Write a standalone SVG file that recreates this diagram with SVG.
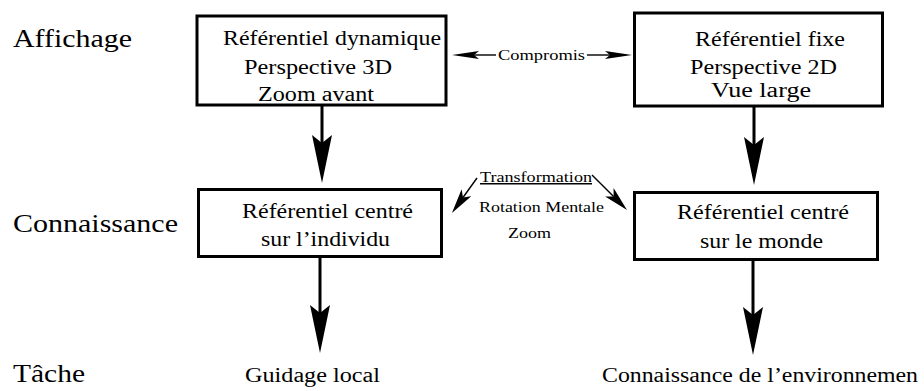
<svg xmlns="http://www.w3.org/2000/svg" width="924" height="391" viewBox="0 0 924 391" font-family="Liberation Serif, Times New Roman, serif">
<style>
.box{fill:#fff;stroke:#000;stroke-width:3}
.t{font-size:20px}
.lab{font-size:25px}
.s{font-size:15px}
.big{stroke:#000;stroke-width:3;fill:none}
.thin{stroke:#000;stroke-width:1.4;fill:none}
</style>
<defs>
<marker id="hb" markerUnits="userSpaceOnUse" viewBox="0 0 48 20" markerWidth="48" markerHeight="20" refX="8" refY="10" orient="auto"><path d="M48,10 L0,0 L8,10 L0,20 Z" fill="#000"/></marker>
<marker id="hs" markerUnits="userSpaceOnUse" viewBox="0 0 27 8" markerWidth="27" markerHeight="8" refX="5" refY="4" orient="auto"><path d="M27,4 L0,0 L5,4 L0,8 Z" fill="#000"/></marker>
<marker id="hd" markerUnits="userSpaceOnUse" viewBox="0 0 25 12" markerWidth="25" markerHeight="12" refX="6" refY="6" orient="auto"><path d="M25,6 L0,0 L6,6 L0,12 Z" fill="#000"/></marker>
</defs>
<g id="labels" font-family="Liberation Serif, serif">
<text class="lab" x="13" y="47" textLength="119" lengthAdjust="spacingAndGlyphs">Affichage</text>
<text class="lab" x="13" y="232" textLength="165" lengthAdjust="spacingAndGlyphs">Connaissance</text>
<text class="lab" x="13" y="382" textLength="72" lengthAdjust="spacingAndGlyphs">Tâche</text>
</g>
<g id="n1" font-family="Liberation Serif, serif">
<rect class="box" x="197" y="16" width="249" height="89"/>
<text class="t" x="223" y="45" textLength="218" lengthAdjust="spacingAndGlyphs">Référentiel dynamique</text>
<text class="t" x="244" y="74" textLength="148" lengthAdjust="spacingAndGlyphs">Perspective 3D</text>
<text class="t" x="258" y="101" textLength="116" lengthAdjust="spacingAndGlyphs">Zoom avant</text>
</g>
<g id="n2" font-family="Liberation Serif, serif">
<rect class="box" x="634.5" y="13" width="248" height="93"/>
<text class="t" x="695" y="46" textLength="150" lengthAdjust="spacingAndGlyphs">Référentiel fixe</text>
<text class="t" x="690" y="74" textLength="147" lengthAdjust="spacingAndGlyphs">Perspective 2D</text>
<text class="t" x="711" y="97" textLength="100" lengthAdjust="spacingAndGlyphs">Vue large</text>
</g>
<g id="n3" font-family="Liberation Serif, serif">
<rect class="box" x="198.5" y="189.5" width="243" height="67"/>
<text class="t" x="242" y="218" textLength="171" lengthAdjust="spacingAndGlyphs">Référentiel centré</text>
<text class="t" x="261" y="246" textLength="129" lengthAdjust="spacingAndGlyphs">sur l’individu</text>
</g>
<g id="n4" font-family="Liberation Serif, serif">
<rect class="box" x="634.5" y="192.5" width="243" height="67"/>
<text class="t" x="677" y="219" textLength="172" lengthAdjust="spacingAndGlyphs">Référentiel centré</text>
<text class="t" x="700" y="248" textLength="123" lengthAdjust="spacingAndGlyphs">sur le monde</text>
</g>
<g id="n5" font-family="Liberation Serif, serif">
<text class="t" x="245" y="382" textLength="135" lengthAdjust="spacingAndGlyphs">Guidage local</text>
</g>
<g id="n6" font-family="Liberation Serif, serif">
<text class="t" x="602" y="382" textLength="316" lengthAdjust="spacingAndGlyphs">Connaissance de l’environnemen</text>
</g>
<g id="edge-labels" font-family="Liberation Serif, serif">
<text class="s" x="498" y="60" textLength="87" lengthAdjust="spacingAndGlyphs">Compromis</text>
<text class="s" x="480" y="182" textLength="112" lengthAdjust="spacingAndGlyphs" text-decoration="underline">Transformation</text>
<text class="s" x="479" y="212" textLength="125" lengthAdjust="spacingAndGlyphs">Rotation Mentale</text>
<text class="s" x="508" y="238" textLength="43" lengthAdjust="spacingAndGlyphs">Zoom</text>
</g>
<g id="connectors">
<line class="big" x1="322" y1="106" x2="322" y2="143" marker-end="url(#hb)"/>
<line class="big" x1="754" y1="106" x2="754" y2="145" marker-end="url(#hb)"/>
<line class="big" x1="320" y1="258" x2="320" y2="313" marker-end="url(#hb)"/>
<line class="big" x1="753" y1="261" x2="753" y2="315" marker-end="url(#hb)"/>
<line class="thin" x1="496" y1="55" x2="474" y2="55" marker-end="url(#hs)"/>
<line class="thin" x1="587" y1="55" x2="610" y2="55" marker-end="url(#hs)"/>
<line class="thin" x1="477" y1="178" x2="463" y2="197.5" marker-end="url(#hd)"/>
<line class="thin" x1="592" y1="175" x2="613.6" y2="196.6" marker-end="url(#hd)"/>
</g>
</svg>
